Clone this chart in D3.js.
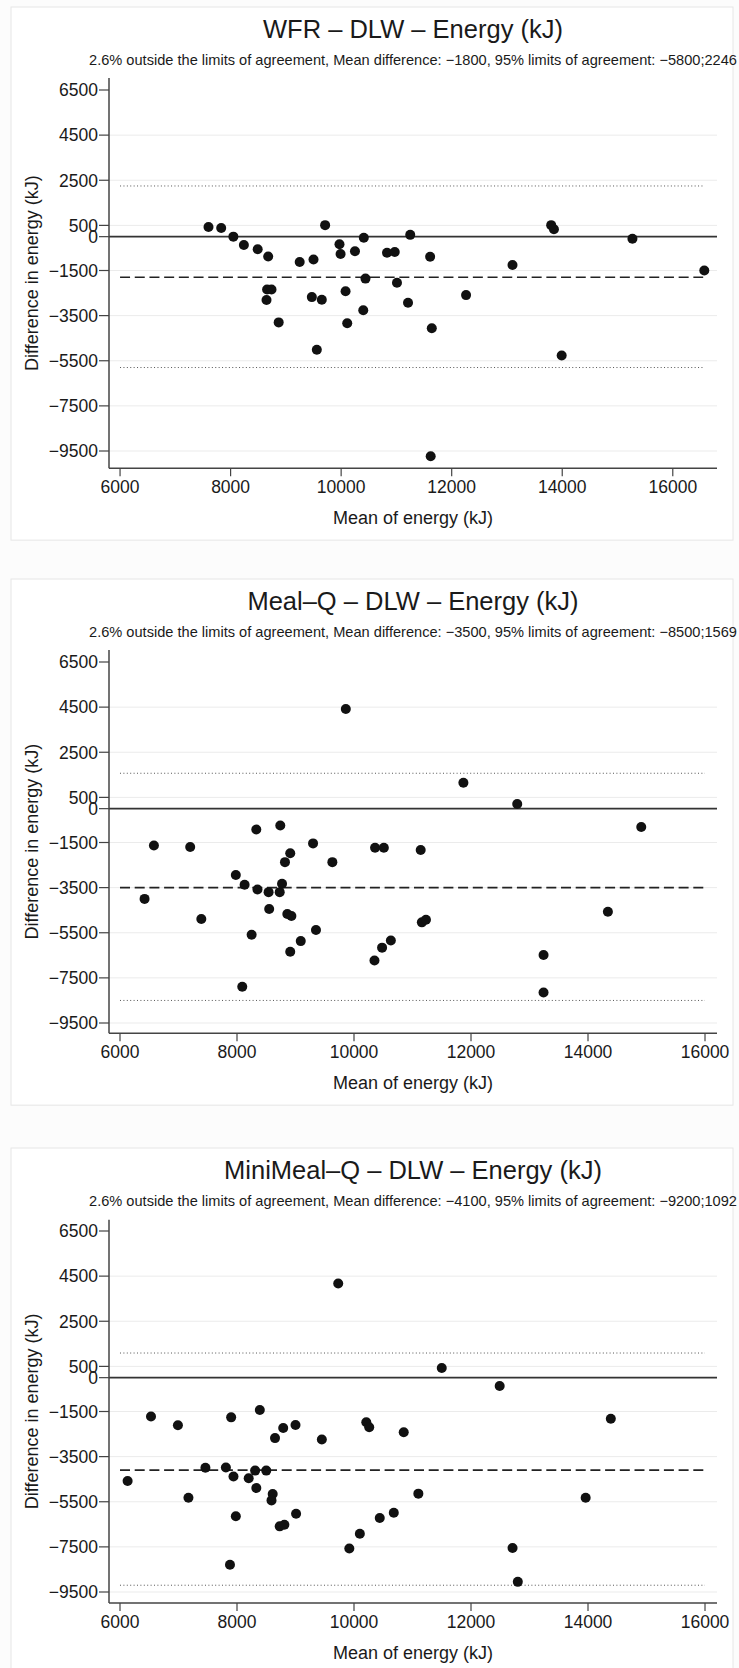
<!DOCTYPE html>
<html><head><meta charset="utf-8">
<script src="https://cdn.jsdelivr.net/npm/d3@7"></script>
<style>
body{margin:0;background:#fcfcfc}
svg{display:block}
text{font-family:"Liberation Sans",Arial,Helvetica,sans-serif;fill:#1a1a1a}
</style>
</head><body>
<svg id="c" width="739" height="1668"></svg>
<script>
// ---------- data ----------
const panelTitles = ["WFR \u2013 DLW \u2013 Energy (kJ)", "Meal\u2013Q \u2013 DLW \u2013 Energy (kJ)", "MiniMeal\u2013Q \u2013 DLW \u2013 Energy (kJ)"];
const pctOutside = ["2.6%", "2.6%", "2.6%"];
const meanDiff = [-1800, -3500, -4100];
const loaLower = [-5800, -8500, -9200];
const loaUpper = [2246, 1569, 1092];
const yTicks = [6500, 4500, 2500, 500, 0, -1500, -3500, -5500, -7500, -9500];
const xTicks = [6000, 8000, 10000, 12000, 14000, 16000];
const xLabel = "Mean of energy (kJ)";
const yLabel = "Difference in energy (kJ)";

const wfrMean = [7600,7830,8050,8240,8490,8680,9250,9500,9710,9970,9990,10250,10410,10440,8660,8740,8650,8870,9470,9650,10080,10110,10400,9560,10830,10970,11250,11610,11010,11210,11640,12260,13100,13800,13850,15270,16570,13990,11620];
const wfrDiff = [430,380,0,-370,-560,-880,-1120,-1010,510,-340,-770,-650,-50,-1860,-2340,-2340,-2810,-3800,-2680,-2800,-2420,-3840,-3260,-5010,-710,-680,80,-890,-2040,-2930,-4060,-2590,-1260,510,330,-90,-1500,-5270,-9730];

const mealqMean = [9860,6580,7200,6420,7390,8330,8740,9300,8910,8820,9630,7980,8130,8350,8540,8730,8770,8550,8860,8930,8250,9350,9090,8910,8090,10360,10510,11140,11870,12790,14910,14340,11160,11230,10630,10480,10350,13240,13240];
const mealqDiff = [4420,-1630,-1700,-4000,-4890,-920,-750,-1540,-1980,-2370,-2370,-2940,-3370,-3580,-3700,-3700,-3330,-4450,-4670,-4760,-5590,-5380,-5870,-6340,-7890,-1730,-1730,-1830,1150,210,-810,-4570,-5040,-4920,-5840,-6160,-6730,-6490,-8150];

const miniMean = [9730,6530,6990,6130,7170,7460,7810,7900,7940,7980,7880,8390,8200,8310,8500,8330,8650,8790,9000,8610,8590,8730,8810,9010,9450,9920,10100,10210,10260,10850,11500,12490,14390,11100,13960,10680,10440,12710,12800];
const miniDiff = [4170,-1720,-2110,-4580,-5320,-3990,-3980,-1760,-4380,-6140,-8290,-1430,-4460,-4120,-4120,-4890,-2680,-2230,-2100,-5160,-5440,-6590,-6520,-6030,-2740,-7570,-6920,-1980,-2200,-2420,430,-370,-1820,-5140,-5320,-5990,-6220,-7550,-9050];

// axis extents (data units)
const xDomains = [[5800, 16800], [5812, 16205], [5812, 16205]];
const yTopVal = [7030, 7030, 7000];
const yBottomVal = [-10260, -9950, -9990];
const lineExtent = [[6000, 16550], [6000, 16000], [6000, 16000]];

// ---------- drawing ----------
const panels = [
  {mean: wfrMean, diff: wfrDiff},
  {mean: mealqMean, diff: mealqDiff},
  {mean: miniMean, diff: miniDiff}
];
const panelTops = [7, 579, 1148];
const svg = d3.select("#c");
const fmt = v => (v < 0 ? "\u2212" + Math.abs(v) : String(v));

panels.forEach((p, i) => {
  const T = panelTops[i];
  const L = 109, R = 717;
  const g = svg.append("g");
  const x = d3.scaleLinear().domain(xDomains[i]).range([L, R]);
  const y = d3.scaleLinear().domain([-9500, 6500]).range([T + 444, T + 83]);
  const yTop = y(yTopVal[i]), yBot = y(yBottomVal[i]);

  // panel frame
  g.append("rect").attr("x", 11).attr("y", T).attr("width", 722).attr("height", yBot + 72 - T)
    .attr("fill", "#fff").attr("stroke", "#e6e6e6").attr("stroke-width", 1);

  // titles
  const cx = (L + R) / 2;
  g.append("text").attr("x", cx).attr("y", T + 31).attr("text-anchor", "middle")
    .attr("font-size", 25.5).text(panelTitles[i]);
  g.append("text").attr("x", cx).attr("y", T + 58).attr("text-anchor", "middle")
    .attr("font-size", 14.6)
    .text(`${pctOutside[i]} outside the limits of agreement, Mean difference: ${fmt(meanDiff[i])}, 95% limits of agreement: ${fmt(loaLower[i])};${loaUpper[i]}`);

  // gridlines
  g.append("g").selectAll("line").data(yTicks.filter(t => t !== 6500 && t !== 0)).join("line")
    .attr("x1", L).attr("x2", R).attr("y1", d => y(d)).attr("y2", d => y(d))
    .attr("stroke", "#ebebeb").attr("stroke-width", 1);

  // reference lines
  const [e0, e1] = lineExtent[i];
  g.append("line").attr("x1", x(e0)).attr("x2", x(e1)).attr("y1", y(loaUpper[i])).attr("y2", y(loaUpper[i]))
    .attr("stroke", "#555").attr("stroke-width", 1).attr("stroke-dasharray", "1,2.4");
  g.append("line").attr("x1", x(e0)).attr("x2", x(e1)).attr("y1", y(loaLower[i])).attr("y2", y(loaLower[i]))
    .attr("stroke", "#555").attr("stroke-width", 1).attr("stroke-dasharray", "1,2.4");
  g.append("line").attr("x1", x(e0)).attr("x2", x(e1)).attr("y1", y(meanDiff[i])).attr("y2", y(meanDiff[i]))
    .attr("stroke", "#222").attr("stroke-width", 1.6).attr("stroke-dasharray", "10,4.7");
  g.append("line").attr("x1", L).attr("x2", R).attr("y1", y(0)).attr("y2", y(0))
    .attr("stroke", "#333").attr("stroke-width", 1.6);

  // axes
  g.append("line").attr("x1", L).attr("x2", L).attr("y1", yTop).attr("y2", yBot)
    .attr("stroke", "#444").attr("stroke-width", 1.5);
  g.append("line").attr("x1", L).attr("x2", R).attr("y1", yBot).attr("y2", yBot)
    .attr("stroke", "#444").attr("stroke-width", 1.5);

  // y ticks
  const yt = g.append("g").selectAll("g").data(yTicks).join("g")
    .attr("transform", d => `translate(0,${y(d)})`);
  yt.append("line").attr("x1", L - 10).attr("x2", L).attr("stroke", "#444").attr("stroke-width", 1.2);
  yt.append("text").attr("x", L - 11).attr("dy", "0.36em").attr("text-anchor", "end")
    .attr("font-size", 17.5).text(d => fmt(d));

  // x ticks
  const xt = g.append("g").selectAll("g").data(xTicks).join("g")
    .attr("transform", d => `translate(${x(d)},${yBot})`);
  xt.append("line").attr("y1", 0).attr("y2", 8).attr("stroke", "#444").attr("stroke-width", 1.2);
  xt.append("text").attr("y", 18.5).attr("dy", "0.36em").attr("text-anchor", "middle")
    .attr("font-size", 17.5).text(d => d);

  // axis titles
  g.append("text").attr("x", cx).attr("y", yBot + 49).attr("dy", "0.36em").attr("text-anchor", "middle")
    .attr("font-size", 18).text(xLabel);
  const cy = (yTop + yBot) / 2;
  g.append("text").attr("transform", `translate(32,${cy}) rotate(-90)`).attr("dy", "0.36em")
    .attr("text-anchor", "middle").attr("font-size", 18).text(yLabel);

  // points
  g.append("g").selectAll("circle").data(p.mean.map((m, k) => [m, p.diff[k]])).join("circle")
    .attr("cx", d => x(d[0])).attr("cy", d => y(d[1])).attr("r", 5).attr("fill", "#111");
});
</script>
</body></html>
